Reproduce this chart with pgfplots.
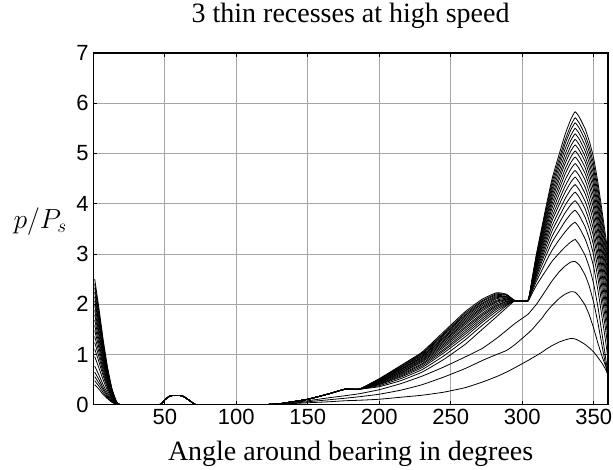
\documentclass[border=0pt]{standalone}
\usepackage{fontspec}
\setmainfont{Liberation Serif}
\newfontfamily\arialfont{Liberation Sans}
\usepackage{pgfplots}
\usepackage{pgfplotstable}
\pgfplotsset{compat=1.18}

% pressure ratio p/Ps against angle, 21 load cases (c1 = lowest peak)
\pgfplotstableread{
x   c1   c2   c3   c4   c5   c6   c7   c8   c9   c10  c11  c12  c13  c14  c15  c16  c17  c18  c19  c20  c21
1   0.40 0.48 0.56 0.65 0.77 0.96 1.11 1.24 1.36 1.48 1.58 1.69 1.79 1.88 1.98 2.07 2.15 2.24 2.33 2.41 2.50
4   0.31 0.37 0.43 0.50 0.59 0.73 0.85 0.95 1.04 1.13 1.21 1.29 1.37 1.44 1.51 1.58 1.64 1.71 1.78 1.84 1.91
7   0.20 0.24 0.29 0.33 0.39 0.49 0.57 0.63 0.69 0.75 0.81 0.86 0.91 0.96 1.01 1.06 1.10 1.14 1.19 1.23 1.28
10  0.12 0.14 0.16 0.19 0.23 0.28 0.33 0.36 0.40 0.44 0.46 0.50 0.53 0.55 0.58 0.61 0.63 0.66 0.69 0.71 0.74
13  0.05 0.06 0.07 0.08 0.10 0.12 0.14 0.16 0.18 0.19 0.21 0.22 0.23 0.24 0.26 0.27 0.28 0.29 0.30 0.31 0.33
16  0.01 0.01 0.02 0.02 0.02 0.03 0.03 0.04 0.04 0.04 0.05 0.05 0.05 0.06 0.06 0.06 0.06 0.07 0.07 0.07 0.08
19  0    0    0    0    0    0    0    0    0    0    0    0    0    0    0    0    0    0    0    0    0
46  0    0    0    0    0    0    0    0    0    0    0    0    0    0    0    0    0    0    0    0    0
50  0.10 0.10 0.10 0.10 0.10 0.10 0.10 0.10 0.10 0.10 0.10 0.10 0.10 0.10 0.10 0.10 0.10 0.10 0.10 0.10 0.10
54  0.18 0.18 0.18 0.18 0.18 0.18 0.18 0.18 0.18 0.18 0.18 0.18 0.18 0.18 0.18 0.18 0.18 0.18 0.18 0.18 0.18
62  0.18 0.18 0.18 0.18 0.18 0.18 0.18 0.18 0.18 0.18 0.18 0.18 0.18 0.18 0.18 0.18 0.18 0.18 0.18 0.18 0.18
67  0.09 0.09 0.09 0.09 0.09 0.09 0.09 0.09 0.09 0.09 0.09 0.09 0.09 0.09 0.09 0.09 0.09 0.09 0.09 0.09 0.09
71  0.01 0.01 0.01 0.01 0.01 0.01 0.01 0.01 0.01 0.01 0.01 0.01 0.01 0.01 0.01 0.01 0.01 0.01 0.01 0.01 0.01
75  0    0    0    0    0    0    0    0    0    0    0    0    0    0    0    0    0    0    0    0    0
115 0    0    0    0    0    0    0    0    0    0    0    0    0    0    0    0    0    0    0    0    0
130 0.01 0.01 0.015 0.02 0.02 0.02 0.02 0.02 0.02 0.02 0.02 0.02 0.02 0.02 0.02 0.02 0.02 0.02 0.02 0.02 0.02
150 0.04 0.06 0.08 0.11 0.11 0.11 0.11 0.11 0.11 0.11 0.11 0.11 0.11 0.11 0.11 0.11 0.11 0.11 0.11 0.11 0.11
165 0.06 0.10 0.14 0.22 0.22 0.22 0.22 0.22 0.22 0.22 0.22 0.22 0.22 0.22 0.22 0.22 0.22 0.22 0.22 0.22 0.22
176 0.08 0.13 0.18 0.31 0.31 0.31 0.31 0.31 0.31 0.31 0.31 0.31 0.31 0.31 0.31 0.31 0.31 0.31 0.31 0.31 0.31
186 0.09 0.16 0.22 0.31 0.31 0.31 0.31 0.31 0.31 0.31 0.31 0.31 0.31 0.31 0.31 0.31 0.31 0.31 0.31 0.31 0.31
200 0.11 0.21 0.30 0.36 0.38 0.40 0.41 0.42 0.43 0.44 0.45 0.46 0.46 0.47 0.48 0.49 0.49 0.50 0.51 0.51 0.52
215 0.15 0.29 0.42 0.48 0.52 0.55 0.57 0.59 0.61 0.63 0.64 0.66 0.67 0.69 0.70 0.71 0.73 0.74 0.75 0.77 0.78
230 0.19 0.40 0.57 0.65 0.70 0.74 0.77 0.80 0.82 0.85 0.87 0.89 0.91 0.93 0.95 0.96 0.98 1.00 1.02 1.03 1.05
245 0.25 0.55 0.75 0.90 0.97 1.03 1.07 1.10 1.14 1.17 1.20 1.23 1.26 1.28 1.31 1.33 1.35 1.38 1.40 1.42 1.45
260 0.34 0.72 0.95 1.20 1.29 1.35 1.40 1.44 1.48 1.52 1.55 1.59 1.62 1.65 1.68 1.71 1.74 1.77 1.79 1.82 1.85
272 0.45 0.88 1.12 1.50 1.58 1.64 1.68 1.72 1.76 1.79 1.82 1.86 1.89 1.92 1.94 1.97 2.00 2.02 2.05 2.07 2.10
282 0.56 1.00 1.32 1.75 1.81 1.86 1.90 1.93 1.96 1.98 2.01 2.04 2.06 2.08 2.11 2.13 2.15 2.17 2.19 2.21 2.23
289 0.65 1.08 1.48 1.93 1.97 1.99 2.01 2.03 2.05 2.06 2.08 2.09 2.10 2.12 2.13 2.14 2.15 2.16 2.18 2.19 2.20
295 0.74 1.20 1.62 2.07 2.07 2.07 2.07 2.07 2.07 2.07 2.07 2.07 2.07 2.07 2.07 2.07 2.07 2.07 2.07 2.07 2.07
304 0.88 1.42 1.80 2.07 2.07 2.07 2.07 2.07 2.07 2.07 2.07 2.07 2.07 2.07 2.07 2.07 2.07 2.07 2.07 2.07 2.07
307 0.93 1.50 1.90 2.22 2.26 2.29 2.31 2.33 2.35 2.37 2.38 2.40 2.41 2.43 2.44 2.46 2.47 2.48 2.49 2.51 2.52
310 0.98 1.60 2.00 2.38 2.46 2.52 2.57 2.61 2.65 2.69 2.72 2.75 2.79 2.82 2.85 2.87 2.90 2.93 2.96 2.98 3.01
314 1.05 1.73 2.17 2.56 2.69 2.79 2.87 2.93 2.99 3.05 3.11 3.16 3.21 3.26 3.31 3.35 3.40 3.44 3.49 3.53 3.57
317 1.11 1.85 2.30 2.69 2.87 2.99 3.08 3.17 3.25 3.32 3.39 3.46 3.53 3.59 3.65 3.71 3.76 3.82 3.88 3.93 3.99
321 1.18 1.98 2.47 2.86 3.08 3.24 3.36 3.47 3.57 3.67 3.75 3.84 3.93 4.01 4.09 4.16 4.23 4.30 4.37 4.44 4.51
326 1.25 2.12 2.65 3.02 3.29 3.47 3.62 3.75 3.87 3.99 4.09 4.20 4.30 4.39 4.49 4.57 4.66 4.75 4.83 4.91 5.00
330 1.29 2.20 2.76 3.14 3.44 3.65 3.82 3.97 4.10 4.23 4.35 4.47 4.59 4.69 4.80 4.89 4.99 5.09 5.19 5.27 5.38
334 1.32 2.25 2.84 3.24 3.57 3.80 3.98 4.14 4.29 4.43 4.56 4.69 4.82 4.93 5.05 5.15 5.26 5.36 5.47 5.56 5.68
337 1.31 2.24 2.85 3.29 3.63 3.87 4.06 4.23 4.38 4.53 4.66 4.80 4.93 5.05 5.17 5.28 5.39 5.50 5.61 5.71 5.83
340 1.27 2.15 2.78 3.18 3.52 3.76 3.95 4.12 4.27 4.42 4.55 4.69 4.82 4.94 5.06 5.17 5.28 5.39 5.50 5.60 5.72
344 1.20 1.98 2.58 2.97 3.30 3.54 3.73 3.90 4.05 4.20 4.33 4.47 4.60 4.72 4.84 4.94 5.05 5.16 5.27 5.37 5.49
347 1.13 1.78 2.35 2.73 3.06 3.30 3.49 3.65 3.80 3.95 4.08 4.22 4.35 4.46 4.58 4.69 4.80 4.91 5.02 5.12 5.24
350 1.05 1.52 2.03 2.40 2.74 2.97 3.16 3.33 3.47 3.62 3.75 3.89 4.01 4.13 4.25 4.36 4.46 4.57 4.68 4.78 4.90
353 0.94 1.22 1.62 1.94 2.27 2.51 2.69 2.86 3.00 3.15 3.27 3.41 3.54 3.65 3.77 3.88 3.98 4.09 4.20 4.30 4.41
356 0.82 0.95 1.15 1.38 1.71 1.94 2.12 2.28 2.43 2.57 2.69 2.83 2.96 3.07 3.19 3.29 3.39 3.50 3.61 3.71 3.82
358 0.72 0.80 0.85 1.00 1.33 1.56 1.74 1.90 2.04 2.18 2.31 2.45 2.57 2.68 2.80 2.90 3.00 3.11 3.21 3.31 3.42
360 0.60 0.65 0.55 0.60 0.92 1.15 1.33 1.49 1.63 1.77 1.89 2.03 2.15 2.26 2.38 2.48 2.58 2.69 2.79 2.89 3.00
}\pressure

\begin{document}
\begin{tikzpicture}
\useasboundingbox (-70pt,-48.75pt) rectangle (390pt,303.75pt);
\begin{axis}[
  at={(0,0)}, anchor=south west,
  scale only axis, width=386.25pt, height=264pt,
  xmin=0, xmax=360, ymin=0, ymax=7,
  xtick={50,100,...,350}, ytick={0,1,...,7},
  grid=major, major grid style={black!35, line width=0.5pt},
  tick align=inside, major tick length=3pt,
  tick style={black, line width=0.5pt},
  axis line style={line width=0.8pt},
  ticklabel style={font=\arialfont\fontsize{16.5}{16.5}\selectfont},
  /pgf/number format/assume math mode=true,
  title={3 thin recesses at high speed},
  title style={font=\fontsize{21}{21}\selectfont, at={(0.5,1)}, anchor=base, yshift=16.5pt},
  xlabel={Angle around bearing in degrees},
  xlabel style={font=\fontsize{21}{21}\selectfont, at={(0.5,0)}, anchor=base, yshift=-42pt},
  ylabel={$p/P_s$},
  ylabel style={rotate=-90, font=\fontsize{20}{20}\selectfont, at={(rel axis cs:-0.103,0.52)}, anchor=center},
]
\pgfplotsinvokeforeach{1,...,21}{
  \addplot[black, line width=0.6pt, smooth, tension=0.25] table[x index=0, y index=#1] {\pressure};
}
\end{axis}
\end{tikzpicture}
\end{document}
